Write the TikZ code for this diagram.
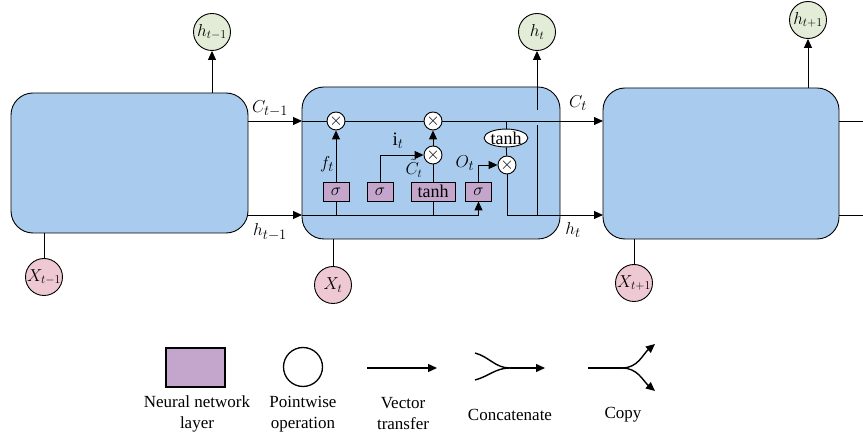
\documentclass[tikz,border=0pt]{standalone}
\usepackage{fontspec}
\setmainfont{Liberation Serif}
\usetikzlibrary{arrows.meta,shapes.geometric}
\definecolor{cellblue}{RGB}{169,204,238}
\definecolor{gatepurple}{RGB}{196,166,204}
\definecolor{outgreen}{RGB}{226,236,214}
\definecolor{inpink}{RGB}{238,200,210}
\begin{document}
\begin{tikzpicture}[x=1pt,y=-1pt,line width=0.9pt,
	vec/.style={-{Triangle[length=9pt,width=8pt]}},
	cell/.style={draw,fill=cellblue,rounded corners=22pt,inner sep=0pt},
	gate/.style={draw,fill=gatepurple,inner sep=0pt,minimum width=26pt,minimum height=19pt,font=\fontsize{18}{20}\selectfont},
	mult/.style={draw,fill=white,circle,inner sep=0pt,minimum size=18pt},
	hout/.style={draw,fill=outgreen,circle,inner sep=-1pt,minimum size=37pt,font=\fontsize{17.5}{20}\selectfont},
	xin/.style={draw,fill=inpink,circle,inner sep=-1pt,minimum size=37pt,font=\fontsize{17.5}{20}\selectfont},
	lbl/.style={inner sep=1pt,font=\fontsize{19}{21}\selectfont},
	font=\fontsize{17}{21}\selectfont]
	\useasboundingbox (0,0) rectangle (863,435);
	
	% three cells
	\node[cell,minimum width=237pt,minimum height=140pt] (cellA) at (129.5,163) {};
	\node[cell,minimum width=258pt,minimum height=152pt] (cellB) at (431,163) {};
	\node[cell,minimum width=236pt,minimum height=151pt] (cellC) at (721,163.5) {};
	
	\node[hout] (hA) at (212,32) {$h_{t-1}$};
	\node[hout] (hB) at (537,32) {$h_t$};
	\node[hout] (hC) at (808,20) {$h_{t+1}$};
	\node[xin] (xA) at (44,277) {$X_{t-1}$};
	\node[xin] (xB) at (333,285) {$X_t$};
	\node[xin] (xC) at (634,283) {$X_{t+1}$};
	
	\foreach \nm/\px in {Ao/248,Bi/302,Bo/560,Ci/603,Co/839,End/863}{
		\coordinate (cs\nm) at (\px,121);
		\coordinate (hs\nm) at (\px,215);}
	
	% gates inside the middle cell
	\node[gate] (sf) at (336,191.5) {$\sigma$};
	\node[gate] (si) at (380,191.5) {$\sigma$};
	\node[gate,minimum width=44pt] (tg) at (433,191.5) {tanh};
	\node[gate] (so) at (478.5,191.5) {$\sigma$};
	\node[draw,fill=white,ellipse,inner sep=0pt,minimum width=43pt,minimum height=17pt,font=\fontsize{18}{20}\selectfont] (th) at (506,138) {tanh};
	
	\draw (csBi)--(csBo) (th.north|-csBo)--(th);
	\draw (sf.south|-hsBi)--(sf) (tg.south|-hsBi)--(tg) (tg)--(433,155);
	\draw[vec] (hsBi) -| (so);
	\draw (hB|-hsBo)--(537,125);
	\draw[vec] (537,110)--(hB);
	
	\node[mult] (m1) at (336,121) {$\times$};
	\node[mult] (m2) at (433,121) {$\times$};
	\node[mult] (m3) at (433,155) {$\times$};
	\node[mult] (m4) at (507,165) {$\times$};
	
	\draw (th)--(m4);
	\draw[vec] (sf)--(m1);
	\draw[vec] (m3)--(m2);
	\draw[vec] (si) |- (m3);
	\draw[vec] (so) |- (m4);
	\draw (m4) |- (hsBo);
	
	\node[lbl] (lf) at (327,164) {$f_t$};
	\node[lbl] (li) at (398,141) {$\mathrm{i}_t$};
	\node[lbl,inner sep=0pt,font=\fontsize{17}{19}\selectfont] (lc) at (414,168) {$\tilde{C}_t$};
	\node[lbl] (lo) at (465,163) {$O_t$};
	
	% between the cells
	\draw[vec] (csAo)--(csBi);
	\draw[vec] (hsAo)--(hsBi);
	\draw[vec] (csBo)--(csCi);
	\draw[vec] (hsBo)--(hsCi);
	\draw (csCo)--(csEnd) (hsCo)--(hsEnd);
	\draw[vec] (hA|-cellA.north)--(hA);
	\draw[vec] (hC|-cellC.north)--(hC);
	\draw (xA)--(xA|-cellA.south) (xB)--(xB|-cellB.south) (xC)--(xC|-cellC.south);
	
	\node[lbl] (lCa) at (270,109) {$C_{t-1}$};
	\node[lbl] (lha) at (270,232) {$h_{t-1}$};
	\node[lbl] (lCb) at (578,103) {$C_t$};
	\node[lbl] (lhb) at (573,230) {$h_t$};
	
	% legend
	\node[gate,minimum width=59pt,minimum height=39pt,line width=1.3pt] (lgLayer) at (195.5,367.5) {};
	\node[draw,circle,minimum size=39pt,line width=1.3pt] (lgOp) at (303,367) {};
	\foreach \nm/\px/\py in {Va/367/368,Vb/437/368,Ca/475/353,Cb/475/380,Cm/510/368,Ce/545/368,Pa/588/368,Pm/622/368,Pu/655/344,Pd/655/391}
	\coordinate (lg\nm) at (\px,\py);
	\begin{scope}[line width=1.4pt]
		\draw[vec] (lgVa)--(lgVb);
		\draw (lgCa) to[out=-15,in=180] (lgCm) (lgCb) to[out=15,in=180] (lgCm);
		\draw[vec] (lgCm)--(lgCe);
		\draw (lgPa)--(lgPm);
		\draw[vec] (lgPm) to[out=0,in=-140] (lgPu);
		\draw[vec] (lgPm) to[out=0,in=140] (lgPd);
	\end{scope}
	\foreach \nm/\px/\py/\txt in {Layer/197/414/{Neural network\\layer},Op/303/414/{Pointwise\\operation},V/403/414/{Vector\\transfer},C/510/415/Concatenate,P/623/415/Copy}
	\node[align=center] (lgT\nm) at (\px,\py) {\txt};
\end{tikzpicture}
\end{document}
